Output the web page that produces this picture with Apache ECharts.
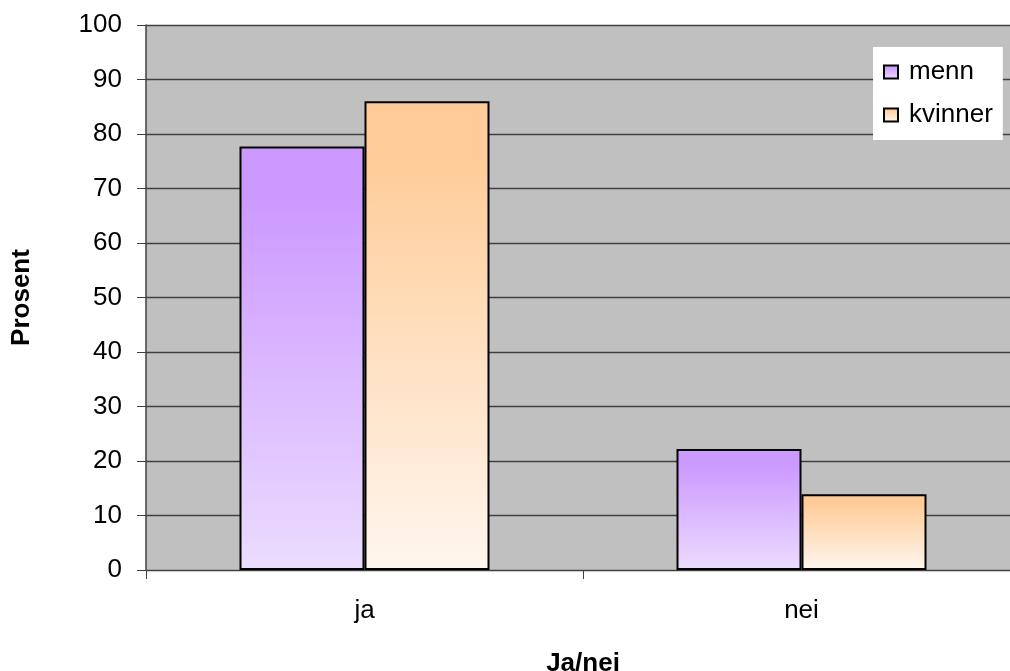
<!DOCTYPE html>
<html>
<head>
<meta charset="utf-8">
<script src="https://cdn.jsdelivr.net/npm/echarts@6/dist/echarts.min.js"></script>
<style>
  html, body { margin: 0; padding: 0; background: #fff; overflow: hidden; }
  /* plot runs past the right edge of the window, like the original */
  #chart { width: 1030px; height: 671px; }
</style>
</head>
<body>
<div id="chart"></div>
<script>
// data
const categories = ['ja', 'nei'];
const menn = [77.7, 22.2];
const kvinner = [86.0, 13.9];
const yTicks = [0, 10, 20, 30, 40, 50, 60, 70, 80, 90, 100];

const font = 'Liberation Sans, Arial, sans-serif';

// vertical gradient, solid on top fading to pale at the base
function grad(top, bottom) {
  return new echarts.graphic.LinearGradient(0, 0, 0, 1, [
    { offset: 0, color: top },
    { offset: 0.12, color: top },
    { offset: 1, color: bottom }
  ]);
}

const chart = echarts.init(document.getElementById('chart'));
chart.setOption({
  animation: false,
  textStyle: { fontFamily: font },
  grid: {
    left: 146, top: 25, width: 874, height: 545,
    outerBoundsMode: 'none', // keep the grid where it is set
    backgroundColor: '#c0c0c0', show: true, borderWidth: 0
  },
  legend: {
    left: 873, top: 47,
    orient: 'vertical',
    backgroundColor: '#fff',
    padding: [12, 10, 12, 10],
    itemGap: 17,
    itemWidth: 14, itemHeight: 13,
    icon: 'rect',
    textStyle: { fontFamily: font, fontSize: 26, color: '#000', padding: [0, 0, 0, 6] },
    data: ['menn', 'kvinner']
  },
  xAxis: {
    type: 'category',
    data: categories,
    name: 'Ja/nei',
    nameLocation: 'middle',
    nameGap: 81,
    nameTextStyle: { fontFamily: font, fontSize: 26, fontWeight: 'bold', color: '#000' },
    axisLine: { lineStyle: { color: '#404040', width: 1 } },
    axisTick: { show: true, length: 9, lineStyle: { color: '#404040' } },
    axisLabel: { fontFamily: font, fontSize: 26, color: '#000', margin: 28 }
  },
  yAxis: {
    type: 'value',
    min: yTicks[0], max: yTicks[yTicks.length - 1], interval: 10,
    name: 'Prosent',
    nameLocation: 'middle',
    nameGap: 111,
    nameRotate: 90,
    nameTextStyle: { fontFamily: font, fontSize: 26, fontWeight: 'bold', color: '#000' },
    axisLine: { show: true, lineStyle: { color: '#404040', width: 1.5 } },
    axisTick: { show: true, length: 9, lineStyle: { color: '#404040' } },
    axisLabel: { fontFamily: font, fontSize: 26, color: '#000', margin: 24 },
    splitLine: { lineStyle: { color: '#404040', width: 1.3 } }
  },
  series: [
    {
      name: 'menn', type: 'bar', data: menn,
      barWidth: 125, barGap: '0%',
      itemStyle: { color: grad('#cc99ff', '#ebdcff'), borderColor: '#000', borderWidth: 2 }
    },
    {
      name: 'kvinner', type: 'bar', data: kvinner,
      barWidth: 125,
      itemStyle: { color: grad('#ffcc99', '#fff6ee'), borderColor: '#000', borderWidth: 2 }
    }
  ]
});
</script>
</body>
</html>
